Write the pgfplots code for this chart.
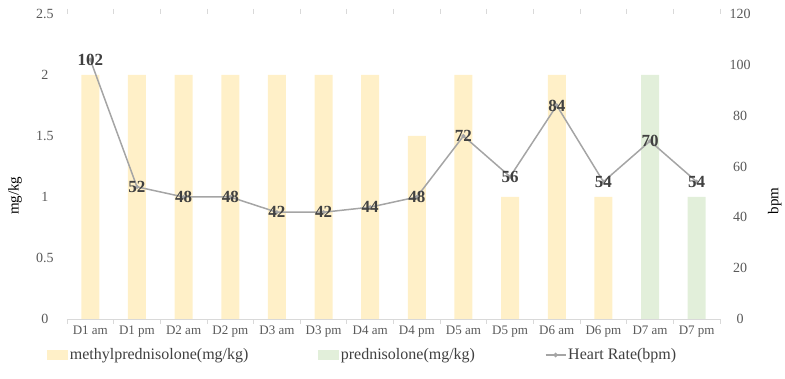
\documentclass[border=0pt]{standalone}
\usepackage{pgfplots}
\pgfplotsset{compat=1.18}
\usepackage{fontspec}
\setmainfont{Liberation Serif}
\definecolor{methyl}{HTML}{FFF0C8}
\definecolor{pred}{HTML}{E2EFDA}
\definecolor{hr}{HTML}{A5A5A5}
\definecolor{tickc}{HTML}{595959}
\definecolor{lab}{HTML}{404040}
\definecolor{axc}{HTML}{D9D9D9}
\begin{document}
\begin{tikzpicture}
\useasboundingbox (0pt,0pt) rectangle (785pt,379pt);
\begin{axis}[at={(67pt,60pt)}, anchor=south west, width=653pt, height=305pt, scale only axis,
  xmin=-0.5, xmax=13.5, ymin=0, ymax=2.5,
  ytick={0,0.5,1,1.5,2,2.5},
  axis line style={draw=none},
  xtick={0,...,13},
  xticklabels={D1 am,D1 pm,D2 am,D2 pm,D3 am,D3 pm,D4 am,D4 pm,D5 am,D5 pm,D6 am,D6 pm,D7 am,D7 pm},
  major tick length=0pt,
  extra x ticks={-0.5,0.5,...,13.5}, extra x tick labels={},
  extra x tick style={major tick length=5pt, tick align=outside, tick style={axc, line width=0.8pt}},
  xticklabel style={font=\fontsize{13}{15}\selectfont, text=tickc, yshift=-3pt},
  yticklabel style={font=\fontsize{14}{16}\selectfont, text=tickc, anchor=center, xshift=-22pt},
  /pgf/number format/assume math mode=true,
  ylabel={mg/kg},
  ylabel style={at={(axis description cs:-0.0796,0.404)}, anchor=center, font=\fontsize{15}{17}\selectfont, text=black},
  clip=false,
]
\draw[axc, line width=0.8pt] (axis cs:-0.5,0) -- (axis cs:13.5,0);
\addplot[ybar, bar width=18pt, bar shift=0pt, fill=methyl, draw=none] coordinates {
(0,2) (1,2) (2,2) (3,2) (4,2) (5,2) (6,2) (7,1.5) (8,2) (9,1) (10,2) (11,1)};
\addplot[ybar, bar width=18pt, bar shift=0pt, fill=pred, draw=none] coordinates {
(12,2) (13,1)};
\end{axis}
\begin{axis}[at={(67pt,60pt)}, anchor=south west, width=653pt, height=305pt, scale only axis,
  xmin=-0.5, xmax=13.5, ymin=0, ymax=120,
  ytick={0,20,...,120},
  axis line style={draw=none},
  xtick=\empty,
  major tick length=0pt,
  axis y line*=right,
  yticklabel style={font=\fontsize{14}{16}\selectfont, text=tickc, anchor=center, xshift=20pt},
  /pgf/number format/assume math mode=true,
  ylabel={bpm},
  ylabel style={at={(axis description cs:1.084,0.387)}, anchor=center, font=\fontsize{15}{17}\selectfont, text=black},
  clip=false,
  legend style={at={(0.453,-0.118)}, anchor=center, draw=none, fill=none,
    font=\fontsize{16}{18}\selectfont, text=lab,
    /tikz/every even column/.append style={column sep=68pt}},
  legend columns=3,
  legend cell align=left,
]
\addlegendimage{legend image code/.code={\fill[methyl] (0pt,-4.5pt) rectangle (20pt,4.5pt);}}
\addlegendentry{methylprednisolone(mg/kg)}
\addlegendimage{legend image code/.code={\fill[pred] (0pt,-4.5pt) rectangle (20pt,4.5pt);}}
\addlegendentry{prednisolone(mg/kg)}
\addplot[hr, line width=1.5pt, mark=*, mark size=1.2pt, mark options={fill=hr},
  nodes near coords,
  every node near coord/.append style={anchor=center, font=\bfseries\fontsize{17}{19}\selectfont, text=lab},
  legend image code/.code={\draw[hr, line width=1.2pt] (0pt,0pt) -- (20pt,0pt); \fill[hr] (10pt,0pt) circle (1.5pt);}
] coordinates {
(0,102) (1,52) (2,48) (3,48) (4,42) (5,42) (6,44) (7,48) (8,72) (9,56) (10,84) (11,54) (12,70) (13,54)};
\addlegendentry{Heart Rate(bpm)}
\end{axis}
\end{tikzpicture}
\end{document}
